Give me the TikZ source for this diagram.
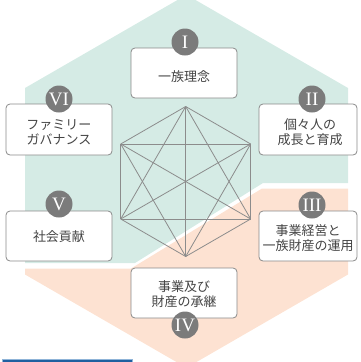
\documentclass[tikz,border=0pt]{standalone}
\usepackage{fontspec}
\newfontfamily\cjk{Noto Sans CJK JP}
\newfontfamily\numfont{Liberation Serif}
\definecolor{mint}{HTML}{D5EBE5}
\definecolor{peach}{HTML}{FDE2D2}
\definecolor{linegray}{HTML}{8C8C8C}
\definecolor{circgray}{HTML}{7B7B7B}
\definecolor{boxgray}{HTML}{8A8A8A}
\definecolor{txt}{HTML}{444444}
\definecolor{bluedark}{HTML}{1F5FA0}
\definecolor{bluelight}{HTML}{8FB4D8}
\tikzset{
  boxshape/.style={draw=boxgray, line width=0.8pt, fill=white, rounded corners=4pt, inner sep=0pt},
  boxtext/.style={text=txt, align=center, font=\cjk\fontsize{13}{15}\selectfont, inner sep=0pt},
  numcirc/.style={circle, fill=circgray, minimum size=27pt, inner sep=0pt, text=white, font=\numfont\fontsize{19}{19}\selectfont},
  hexline/.style={draw=linegray, line width=0.8pt}
}
\begin{document}
\begin{tikzpicture}[x=1pt,y=-1pt]
\useasboundingbox (0,0) rectangle (360,362);
\clip (0,0) rectangle (360,362);
% background regions
\fill[mint] (25,88) -- (186.5,-5.2) -- (348,88) -- (348,183) -- (263,183) -- (135,263) -- (25,263) -- cycle;
\fill[peach] (25,268.5) -- (131,268.5) -- (262,188.5) -- (348,188.5) -- (348,274.5) -- (186.5,367.8) -- (25,274.5) -- cycle;
% inner hexagon vertices
\coordinate (h1) at (185.7,106.5);
\coordinate (h2) at (250.65,144);
\coordinate (h3) at (250.65,219);
\coordinate (h4) at (185.7,256.5);
\coordinate (h5) at (120.75,219);
\coordinate (h6) at (120.75,144);
% complete graph on six vertices
\foreach \a/\b in {h1/h2,h1/h3,h1/h4,h1/h5,h1/h6,h2/h3,h2/h4,h2/h5,h2/h6,h3/h4,h3/h5,h3/h6,h4/h5,h4/h6,h5/h6}{
  \draw[hexline] (\a) -- (\b);
}
% boxes
\node[boxshape, minimum width=106pt, minimum height=50pt] (b1) at (184,73) {};
\node[boxshape, minimum width=98pt, minimum height=51pt] (b2) at (308,129.5) {};
\node[boxshape, minimum width=98pt, minimum height=50pt] (b3) at (308,236) {};
\node[boxshape, minimum width=106pt, minimum height=50pt] (b4) at (184,293) {};
\node[boxshape, minimum width=106pt, minimum height=50pt] (b5) at (59,236) {};
\node[boxshape, minimum width=106pt, minimum height=51pt] (b6) at (59,129.5) {};
% texts
\node[boxtext] (t1) at (184,77) {一族理念};
\node[boxtext] (t2) at (310,132) {個々人の\\成長と育成};
\node[boxtext] (t3) at (308,238.5) {事業経営と\\一族財産の運用};
\node[boxtext] (t4) at (184,294.5) {事業及び\\財産の承継};
\node[boxtext] (t5) at (59,237) {社会貢献};
\node[boxtext] (t6) at (59,132) {ファミリー\\ガバナンス};
% numbered circles
\node[numcirc] (c1) at (185,42) {I};
\node[numcirc] (c2) at (312,99) {II};
\node[numcirc] (c3) at (312,205) {III};
\node[numcirc] (c4) at (185,325) {IV};
\node[numcirc] (c5) at (59,204) {V};
\node[numcirc] (c6) at (59,99) {VI};
% partial blue frame at bottom
\draw[bluelight, line width=1pt] (2,359) rectangle (132,390);
\draw[bluedark, line width=2pt] (3.5,361) rectangle (130.5,390);
\end{tikzpicture}
\end{document}
